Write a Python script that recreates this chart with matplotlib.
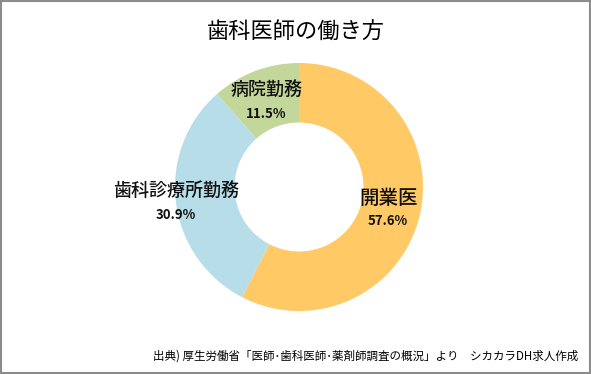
import matplotlib.pyplot as plt
import numpy as np

plt.rcParams['font.family'] = ['Noto Sans CJK JP', 'DejaVu Sans']

categories = ['開業医', '歯科診療所勤務', '病院勤務']
shares = [57.6, 30.9, 11.5]
colors = ['#FFCA66', '#B7DDE8', '#C4D79B']
label_dist = [0.74, 1.0, 0.74]
label_size = [14, 13, 13]

fig = plt.figure(figsize=(5.91, 3.74), dpi=100)
ax = fig.add_axes([(299 - 248) / 591, 1 - 3.11 / 3.74, 4.96 / 5.91, 2.48 / 3.74])

wedges, _ = ax.pie(shares, colors=colors, startangle=90, counterclock=False,
                   radius=1.0, wedgeprops=dict(width=0.48, edgecolor='none'))
ax.set_aspect('equal')
ax.set_xlim(-2, 2)
ax.set_ylim(-1, 1)

for w, name, val, d, fs in zip(wedges, categories, shares, label_dist, label_size):
    mid = np.deg2rad((w.theta1 + w.theta2) / 2)
    x, y = d * np.cos(mid), d * np.sin(mid)
    ax.text(x, y + 0.08, name, ha='center', va='center', fontsize=fs,
            fontweight='medium', color='#111111')
    ax.text(x, y - 0.1, f'{val:.1f}%', ha='center', va='center', fontsize=9.5,
            fontweight='bold', color='#111111')

fig.text(0.5, 1 - 32 / 374, '歯科医師の働き方', ha='center', va='center', fontsize=16)
fig.text(578 / 591, 1 - 356 / 374,
         '出典) 厚生労働省「医師･歯科医師･薬剤師調査の概況」より　シカカラDH求人作成',
         ha='right', va='center', fontsize=8.3)

fig.patches.append(plt.Rectangle((0.001, 0.002), 0.997, 0.996, transform=fig.transFigure,
                                 fill=False, edgecolor='#8c8c8c', linewidth=1.5))

fig.savefig('out.png', dpi=100)
